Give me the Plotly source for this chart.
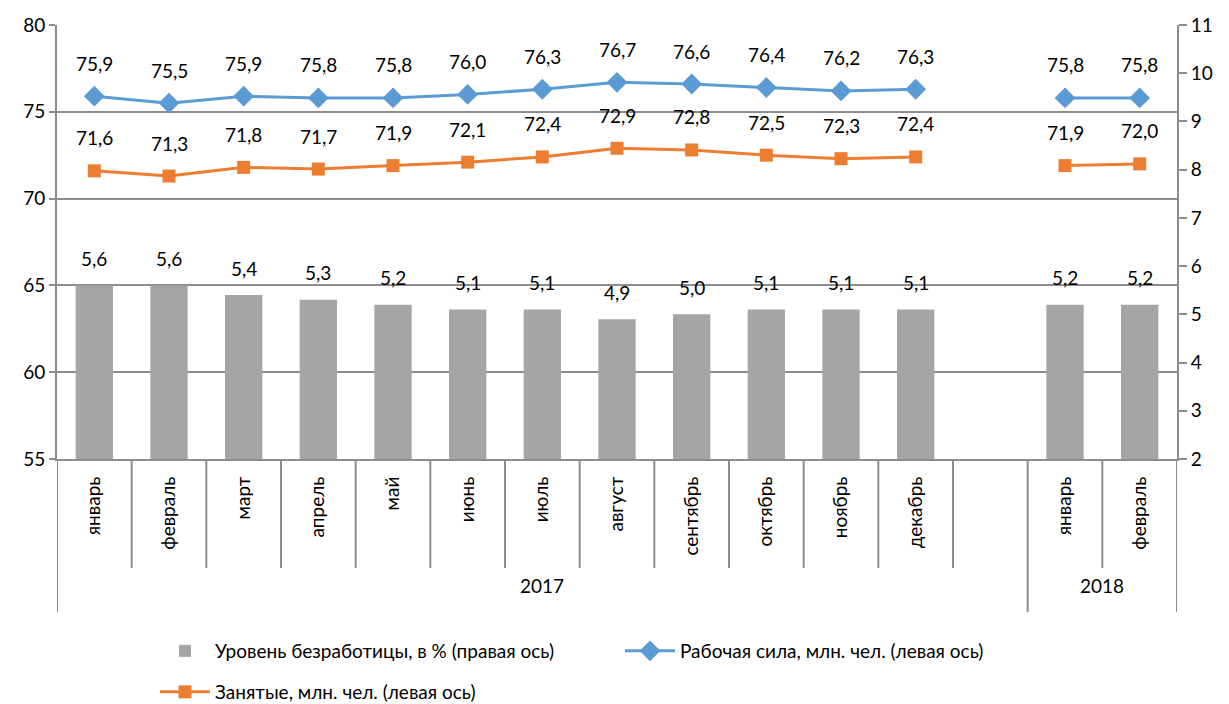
import plotly.graph_objects as go

months = ["январь", "февраль", "март", "апрель", "май", "июнь", "июль", "август",
          "сентябрь", "октябрь", "ноябрь", "декабрь", "", "январь", "февраль"]
years = ["2017", "2018"]
labor_force = [75.9, 75.5, 75.9, 75.8, 75.8, 76.0, 76.3, 76.7, 76.6, 76.4, 76.2, 76.3, None, 75.8, 75.8]
employed = [71.6, 71.3, 71.8, 71.7, 71.9, 72.1, 72.4, 72.9, 72.8, 72.5, 72.3, 72.4, None, 71.9, 72.0]
unemployment = [5.6, 5.6, 5.4, 5.3, 5.2, 5.1, 5.1, 4.9, 5.0, 5.1, 5.1, 5.1, None, 5.2, 5.2]

x = list(range(len(months)))
FONT = "Lato"
GRID = "#8c8c8c"

fig = go.Figure()
fig.add_trace(go.Bar(
    x=x, y=unemployment, yaxis="y2", name="Уровень безработицы, в % (правая ось)",
    marker=dict(color="#A5A5A5", line=dict(width=0)), width=0.5, legend="legend",
))
fig.add_trace(go.Scatter(
    x=x, y=labor_force, name="Рабочая сила, млн. чел. (левая ось)", mode="lines+markers",
    line=dict(color="#5B9BD5", width=3), marker=dict(symbol="diamond", size=16, color="#5B9BD5"),
    connectgaps=False, legend="legend", cliponaxis=False,
))
fig.add_trace(go.Scatter(
    x=x, y=employed, name="Занятые, млн. чел. (левая ось)", mode="lines+markers",
    line=dict(color="#ED7D31", width=3), marker=dict(symbol="square", size=13, color="#ED7D31"),
    connectgaps=False, legend="legend2", cliponaxis=False,
))

def fmt(v):
    return f"{v:.1f}".replace(".", ",")

annotations = []
for series, yref, shift in ((labor_force, "y", 33), (employed, "y", 33), (unemployment, "y2", 27)):
    for i, v in enumerate(series):
        if v is None:
            continue
        annotations.append(dict(x=i, y=v, xref="x", yref=yref, text=fmt(v), showarrow=False,
                                yshift=shift, font=dict(size=19, family=FONT, color="black")))

annotations += [
    dict(x=6, y=-0.322, xref="x", yref="paper", text=years[0], showarrow=False,
         font=dict(size=19, family=FONT, color="black")),
    dict(x=13.5, y=-0.322, xref="x", yref="paper", text=years[1], showarrow=False,
         font=dict(size=19, family=FONT, color="black")),
]

shapes = []
for i in range(len(months) - 1):
    b = i + 0.5
    long = b == 12.5
    shapes.append(dict(type="line", xref="x", yref="paper", x0=b, x1=b, y0=0,
                       y1=-0.353 if long else -0.251, line=dict(color=GRID, width=2)))
for b in (-0.5, 14.5):
    shapes.append(dict(type="line", xref="x", yref="paper", x0=b, x1=b, y0=0,
                       y1=-0.353, line=dict(color=GRID, width=2)))

fig.update_layout(
    width=1229, height=704,
    margin=dict(l=57, r=52, t=25, b=245, autoexpand=False),
    plot_bgcolor="white", paper_bgcolor="white",
    font=dict(family=FONT, size=19, color="black"),
    showlegend=True,
    xaxis=dict(range=[-0.5, 14.5], tickmode="array", tickvals=[i for i in x if months[i]],
               ticktext=[m for m in months if m], tickangle=-90, showgrid=False, zeroline=False,
               showline=True, linecolor=GRID, linewidth=2, ticks="outside", ticklen=8,
               tickcolor="rgba(0,0,0,0)", tickfont=dict(size=19, family=FONT), automargin=False),
    yaxis=dict(range=[55, 80], dtick=5, showgrid=True, gridcolor=GRID, gridwidth=2,
               zeroline=False, showline=True, linecolor=GRID, linewidth=2, ticks="outside",
               ticklen=6, tickcolor=GRID, tickwidth=2, tickfont=dict(size=19, family=FONT),
               automargin=False),
    yaxis2=dict(range=[2, 11], dtick=1, overlaying="y", side="right", showgrid=False,
                zeroline=False, showline=True, linecolor=GRID, linewidth=2, ticks="outside",
                ticklen=8, tickcolor=GRID, tickwidth=2, tickfont=dict(size=19, family=FONT),
                automargin=False),
    legend=dict(orientation="h", x=155 / 1229, y=(704 - 651) / 704, xref="container", yref="container",
                xanchor="left", yanchor="middle", itemwidth=50,
                entrywidth=400, font=dict(size=19, family=FONT), traceorder="normal"),
    legend2=dict(orientation="h", x=155 / 1229, y=(704 - 692) / 704, xref="container", yref="container",
                 xanchor="left", yanchor="middle", itemwidth=50,
                 font=dict(size=19, family=FONT)),
    shapes=shapes, annotations=annotations,
)

fig.write_html("out.html", config={"displayModeBar": False},
               post_script="document.body.style.margin='0';document.body.style.overflow='hidden';")
